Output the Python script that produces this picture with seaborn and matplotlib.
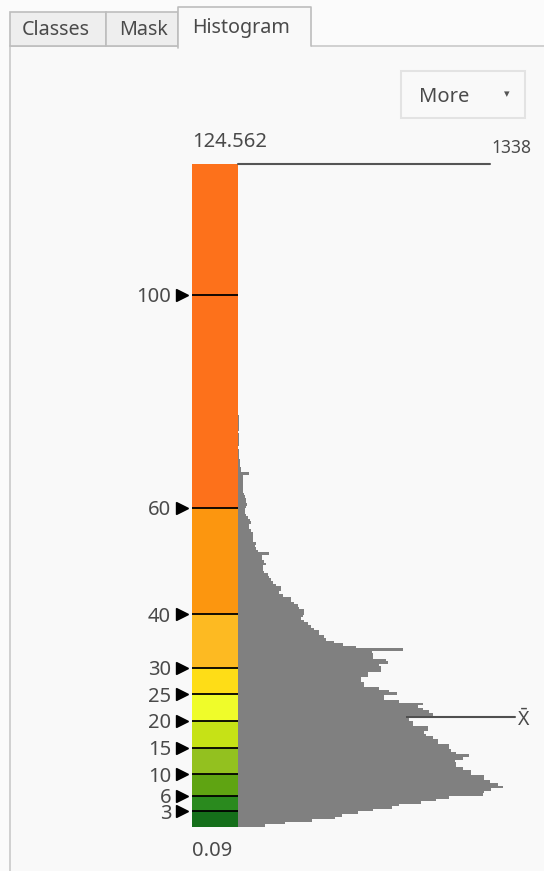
import numpy as np
import pandas as pd
import matplotlib
matplotlib.use('Agg')
import matplotlib.pyplot as plt
from matplotlib.patches import Rectangle
from matplotlib.lines import Line2D
import seaborn as sns

# stretch classes shown on the colour bar
breaks = [0.09, 3, 6, 10, 15, 20, 25, 30, 40, 60, 100, 124.562]
break_labels = ['3', '6', '10', '15', '20', '25', '30', '40', '60', '100']
class_colors = ['#156f1a', '#2a8a1e', '#5fa412', '#93c11f', '#c6e216',
                '#effc2a', '#fedd17', '#fdba22', '#fc960f', '#fd711b', '#fd711b']
value_min = 0.09
value_max = 124.562
n_bins = 256
mean_value = 20.75
max_count = 1338

# pixel count per bin, lowest value bin first
counts = [136, 237, 374, 490, 525, 606, 682, 778, 813, 924, 1000, 1066, 1237, 1240,
          1278, 1338, 1313, 1273, 1242, 1240, 1177, 1175, 1136, 1101, 1100, 1098, 1136,
          1167, 1101, 1076, 1066, 1064, 1010, 1008, 985, 949, 939, 960, 958, 884, 882,
          864, 848, 985, 965, 934, 909, 934, 813, 737, 735, 803, 763, 712,
          636, 634, 621, 620, 657, 655, 722, 720, 712, 758, 747, 682, 680, 678, 833,
          596, 530, 485, 444, 434, 409, 407, 384, 369, 354, 333, 318, 328,
          333, 331, 308, 303, 283, 268, 266, 227, 207, 217, 215, 192, 177, 167, 157,
          152, 131, 126, 124, 141, 131, 121, 119, 157, 101, 91, 86, 91,
          76, 75, 74, 76, 66, 56, 55, 66, 61, 51, 40, 35, 36, 40, 45, 41, 39, 35, 30,
          25, 26, 24, 25, 23, 25, 24, 56, 15, 14, 10, 9, 10, 5,
          5, 4, 5, 0, 5, 4, 5, 5, 4, 0, 4, 5, 3, 4, 3, 3]

W, H = 544, 871
FONT = ['Noto Sans', 'DejaVu Sans']
TEXT = '#4a4a4a'

sns.set_theme(style='white')
plt.rcParams['font.family'] = FONT
plt.rcParams['mathtext.fontset'] = 'custom'
plt.rcParams['mathtext.rm'] = 'Noto Sans'

fig = plt.figure(figsize=(W / 100, H / 100), dpi=100, facecolor='#fbfbfb')


def fbox(x0, y0, x1, y1):
    """Pixel box (top-left origin) to figure-fraction rect."""
    return [x0 / W, 1 - y1 / H, (x1 - x0) / W, (y1 - y0) / H]


def rect(x0, y0, x1, y1, **kw):
    r = fbox(x0, y0, x1, y1)
    fig.add_artist(Rectangle((r[0], r[1]), r[2], r[3], transform=fig.transFigure,
                             zorder=-5, **kw))


def line(xs, ys, **kw):
    fig.add_artist(Line2D([x / W for x in xs], [1 - y / H for y in ys],
                          transform=fig.transFigure, zorder=-4, **kw))


# panel and tabs
rect(10, 46, 600, 900, facecolor='#f9f9f9', edgecolor='#c9c9c9', lw=1.2)
rect(10, 12, 106, 46, facecolor='#eeeeee', edgecolor='#bdbdbd', lw=1.2)
rect(106, 12, 178, 46, facecolor='#eeeeee', edgecolor='#bdbdbd', lw=1.2)
rect(178, 7, 311, 47.5, facecolor='#f9f9f9', edgecolor='none')
line([178, 178, 311, 311], [48, 7, 7, 46], color='#bdbdbd', lw=1.2)
fig.text(22 / W, 1 - 30 / H, 'Classes', fontsize=14.2, color=TEXT, va='center')
fig.text(119 / W, 1 - 30 / H, 'Mask', fontsize=14.2, color=TEXT, va='center')
fig.text(192 / W, 1 - 28 / H, 'Histogram', fontsize=14.2, color=TEXT, va='center')

# "More" button
rect(401, 71, 525, 118, facecolor='#f9f9f9', edgecolor='#e3e3e3', lw=1.5)
fig.text(419 / W, 1 - 97 / H, 'More', fontsize=14.5, color=TEXT, va='center')
fig.text(507 / W, 1 - 94 / H, '\u25be', fontsize=8, color='#555555', va='center', ha='center',
         family=['DejaVu Sans'])

# colour bar of the stretch classes
ax_bar = fig.add_axes(fbox(192, 164, 238, 827))
ax_bar.bar(0.5, np.diff(breaks), bottom=breaks[:-1], width=1, color=class_colors, linewidth=0)
ax_bar.hlines(breaks[1:-1], 0, 1, color='black', lw=1.3)
ax_bar.plot([-0.22] * len(break_labels), breaks[1:-1], ls='none', marker='>', ms=9,
            color='black', clip_on=False)
ax_bar.set_xlim(0, 1)
ax_bar.set_ylim(value_min, value_max)
ax_bar.set_xticks([])
ax_bar.set_yticks(breaks[1:-1])
ax_bar.set_yticklabels(break_labels)
ax_bar.tick_params(axis='y', length=0, pad=15, labelsize=14.5, labelcolor=TEXT)
sns.despine(ax=ax_bar, left=True, bottom=True)
ax_bar.annotate(f'{value_max:g}', xy=(0, value_max), xytext=(0, 16), textcoords='offset points',
                ha='left', va='center', fontsize=14.5, color=TEXT, annotation_clip=False)
ax_bar.annotate(f'{value_min:g}', xy=(0, value_min), xytext=(0, -17), textcoords='offset points',
                ha='left', va='center', fontsize=14.5, color=TEXT, annotation_clip=False)

# histogram of pixel values
bin_width = (value_max - value_min) / n_bins
edges = value_min + bin_width * np.arange(len(counts) + 1)
hist_df = pd.DataFrame({'value': (edges[:-1] + edges[1:]) / 2, 'count': counts})
ax_hist = fig.add_axes(fbox(238, 164, 544, 827))
ax_hist.axhline(mean_value, xmin=0, xmax=277 / 306, color='#505050', lw=1.5, zorder=0.5)
sns.histplot(data=hist_df, y='value', weights='count', bins=list(edges), element='step',
             fill=True, color='#808080', alpha=1, linewidth=0, ax=ax_hist)
ax_hist.set_xlim(0, max_count * 306 / 265)
ax_hist.set_ylim(value_min, value_max)
ax_hist.set_xticks([])
ax_hist.set_yticks([])
ax_hist.set_xlabel('')
ax_hist.set_ylabel('')
ax_hist.patch.set_alpha(0)
sns.despine(ax=ax_hist, left=True, bottom=True)
ax_hist.axhline(value_max, xmin=0, xmax=252 / 306, color='#555555', lw=1.5, clip_on=False)
ax_hist.text(253 / 306, value_max + 3, str(max_count), transform=ax_hist.get_yaxis_transform(),
             ha='left', va='center', fontsize=12.5, color=TEXT)
ax_hist.text(279 / 306, mean_value - 0.6, r'$\bar{\mathrm{X}}$', transform=ax_hist.get_yaxis_transform(),
             ha='left', va='center', fontsize=14, color=TEXT)

fig.savefig('out.png', dpi=100, facecolor=fig.get_facecolor())
